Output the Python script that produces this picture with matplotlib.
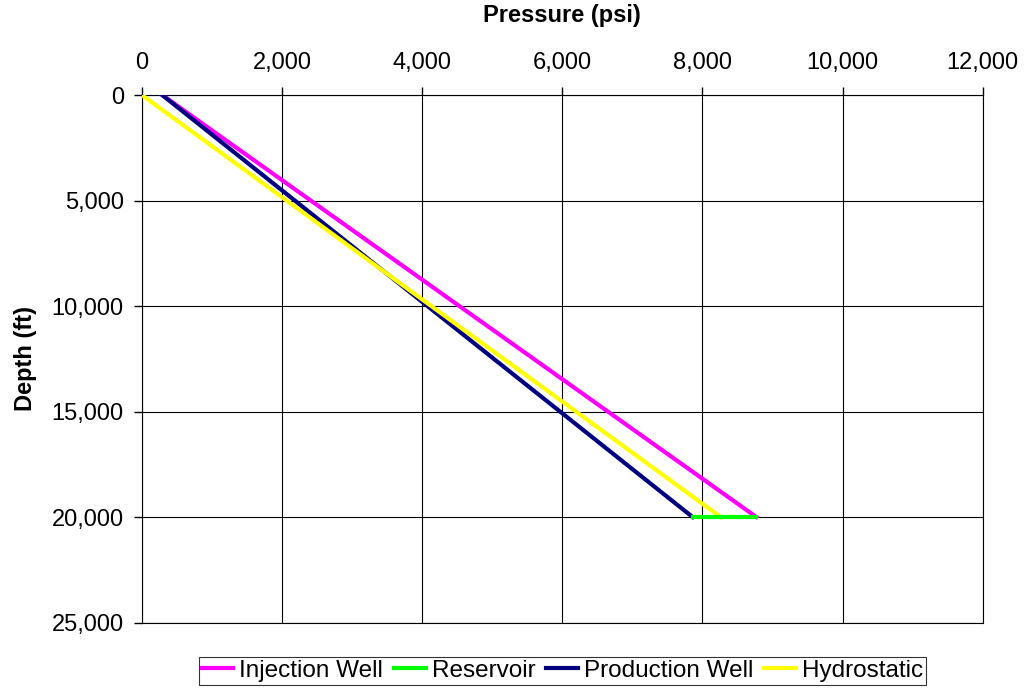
import matplotlib.pyplot as plt
from matplotlib.ticker import FuncFormatter

plt.rcParams['font.family'] = ['Liberation Sans', 'DejaVu Sans']

# pressure (psi) vs depth (ft)
injection_p = [290, 8770]
injection_d = [0, 20000]
reservoir_p = [7860, 8770]
reservoir_d = [20000, 20000]
production_p = [290, 7860]
production_d = [0, 20000]
hydro_p = [0, 8260]
hydro_d = [0, 20000]

fig = plt.figure(figsize=(10.28, 6.91), dpi=100)
ax = fig.add_axes([0.138, 0.099, 0.818, 0.7635])

ax.plot(injection_p, injection_d, color='#ff00ff', lw=3, label='Injection Well', zorder=3)
ax.plot(production_p, production_d, color='#000080', lw=3, label='Production Well', zorder=4)
ax.plot(hydro_p, hydro_d, color='#ffff00', lw=3, label='Hydrostatic', zorder=5)
ax.plot(reservoir_p, reservoir_d, color='#00ff00', lw=3, label='Reservoir', zorder=6)

ax.set_xlim(0, 12000)
ax.set_ylim(25000, 0)
ax.set_xticks(range(0, 12001, 2000))
ax.set_yticks(range(0, 25001, 5000))
fmt = FuncFormatter(lambda v, p: f'{int(v):,}')
ax.xaxis.set_major_formatter(fmt)
ax.yaxis.set_major_formatter(fmt)
ax.xaxis.tick_top()
ax.xaxis.set_label_position('top')
ax.tick_params(labelsize=17, length=6, width=1, color='black')
ax.tick_params(axis='x', pad=9)
ax.tick_params(axis='y', pad=7)
ax.grid(True, color='black', lw=0.8)
for s in ax.spines.values():
    s.set_color('black')
    s.set_linewidth(0.8)

ax.set_xlabel('Pressure (psi)', fontsize=17, fontweight='bold')
ax.set_ylabel('Depth (ft)', fontsize=17, fontweight='bold')
ax.xaxis.set_label_coords(0.5, 1.15)
ax.xaxis.label.set_va('center')
ax.yaxis.set_label_coords(-0.138, 0.5)
ax.yaxis.label.set_va('center')

h, l = ax.get_legend_handles_labels()
order = [0, 3, 1, 2]
leg = fig.legend([h[i] for i in order], [l[i] for i in order], loc='center',
                 bbox_to_anchor=(0.547, 0.029), ncol=4, fontsize=17.5, frameon=True,
                 fancybox=False, edgecolor='black', handlelength=1.3, handletextpad=0.25,
                 columnspacing=0.45, borderpad=0.12, borderaxespad=0)
leg.get_frame().set_linewidth(0.8)

fig.savefig('out.png', dpi=100)
